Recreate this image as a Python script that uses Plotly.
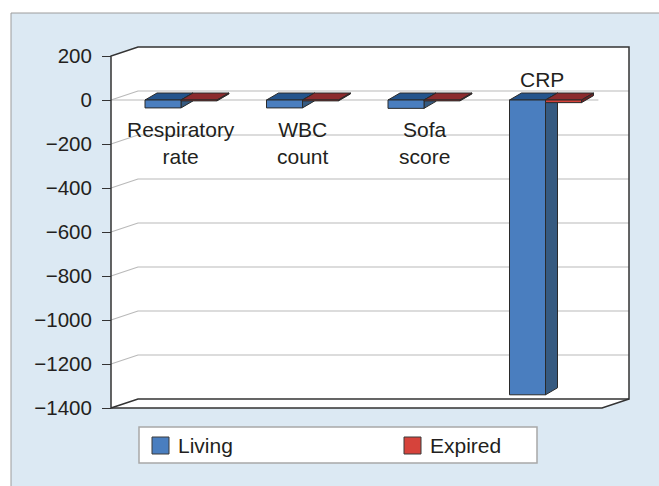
import plotly.graph_objects as go

# ---------------- data ----------------
categories = ["Respiratory<br>rate", "WBC<br>count", "Sofa<br>score", "CRP"]
living = [-36, -36, -38, -1340]
expired = [-4, -4, -4, -12]
series_names = ["Living", "Expired"]
tick_values = [200, 0, -200, -400, -600, -800, -1000, -1200, -1400]
tick_labels = ["200", "0", "\u2212200", "\u2212400", "\u2212600", "\u2212800",
               "\u22121000", "\u22121200", "\u22121400"]

# ---------------- styling / geometry ----------------
label_above = [False, False, False, True]
W, H = 659, 486
ML, MR, MT, MB = 108, 27, 44, 74
X0PX, XS = 181.0, 121.5      # pixel of category 0 centre, pixels per category
Y0PX, YS = 100.0, 0.22       # pixel of value 0, pixels per value unit
FONT = "Liberation Sans, Arial, Helvetica, sans-serif"
TXT = "#231f20"
DARK = "#333333"
GRID = "#b9b9b9"
PANEL = "#dce9f3"

def px2x(px):
    return (px - X0PX) / XS

def py2y(py):
    return (Y0PX - py) / YS

PW, PH = W - ML - MR, H - MT - MB

def ppx(px):
    return (px - ML) / PW

def ppy(py):
    return (H - MB - py) / PH

xr = [px2x(ML), px2x(W - MR)]
yr = [py2y(H - MB), py2y(MT)]
AX_L = px2x(111)
WALL_DX, WALL_DY = 27 / XS, 9 / YS
BACK_R = px2x(629)
FRONT_R = BACK_R - WALL_DX
BAR_W = 36 / XS
BAR_DX, BAR_DY = 12 / XS, 7 / YS
YMAX, YMIN = max(tick_values), min(tick_values)

colors = {
    0: dict(front="#4a7ebf", top="#24548c", side="#365a80"),
    1: dict(front="#d6433b", top="#8b2b2e", side="#6e2224"),
}

fig = go.Figure()

# ---------------- bars (pseudo 3D) ----------------
series = [living, expired]
for s, vals in enumerate(series):
    faces = {"top": ([], []), "side": ([], []), "front": ([], [])}
    for i, v in enumerate(vals):
        x0 = i - BAR_W + s * BAR_W
        x1 = x0 + BAR_W
        t, b = max(v, 0), min(v, 0)
        polys = {
            "top": [(x0, t), (x1, t), (x1 + BAR_DX, t + BAR_DY), (x0 + BAR_DX, t + BAR_DY)],
            "side": [(x1, t), (x1, b), (x1 + BAR_DX, b + BAR_DY), (x1 + BAR_DX, t + BAR_DY)],
            "front": [(x0, t), (x1, t), (x1, b), (x0, b)],
        }
        for k, pts in polys.items():
            xs, ys = faces[k]
            xs += [p[0] for p in pts] + [pts[0][0], None]
            ys += [p[1] for p in pts] + [pts[0][1], None]
    for k in ["top", "side", "front"]:
        xs, ys = faces[k]
        fig.add_trace(go.Scatter(
            x=xs, y=ys, mode="lines", fill="toself",
            fillcolor=colors[s][k], line=dict(color="#2a2a2a", width=1),
            name=series_names[s], showlegend=False, hoverinfo="skip"))

# ---------------- walls, floor, grid ----------------
shapes = []
# outer panel
shapes.append(dict(type="rect", xref="paper", yref="paper", layer="below",
                   x0=ppx(11), x1=ppx(680), y0=ppy(13), y1=ppy(500),
                   fillcolor=PANEL, line=dict(color="#9c9c9c", width=1)))

def path(pts, close=True):
    s = "M " + " L ".join(f"{x},{y}" for x, y in pts)
    return s + (" Z" if close else "")

white_polys = [
    [(AX_L, YMAX), (AX_L + WALL_DX, YMAX + WALL_DY), (AX_L + WALL_DX, YMIN + WALL_DY), (AX_L, YMIN)],
    [(AX_L + WALL_DX, YMAX + WALL_DY), (BACK_R, YMAX + WALL_DY), (BACK_R, YMIN + WALL_DY), (AX_L + WALL_DX, YMIN + WALL_DY)],
    [(AX_L, YMIN), (FRONT_R, YMIN), (BACK_R, YMIN + WALL_DY), (AX_L + WALL_DX, YMIN + WALL_DY)],
]
for p in white_polys:
    shapes.append(dict(type="path", xref="x", yref="y", layer="below", path=path(p),
                       fillcolor="white", line=dict(width=0)))

for v in tick_values:
    if v in (YMAX, YMIN):
        continue
    shapes.append(dict(type="path", xref="x", yref="y", layer="below",
                       path=path([(AX_L, v), (AX_L + WALL_DX, v + WALL_DY), (BACK_R, v + WALL_DY)], False),
                       line=dict(color=GRID, width=1.2)))
# front edge of the zero plane
shapes.append(dict(type="line", xref="x", yref="y", layer="below",
                   x0=AX_L, x1=FRONT_R - 0.03, y0=0, y1=0,
                   line=dict(color=GRID, width=1.2)))
# dark frame
shapes.append(dict(type="path", xref="x", yref="y", layer="below",
                   path=path([(AX_L, YMIN), (AX_L, YMAX), (AX_L + WALL_DX, YMAX + WALL_DY),
                              (BACK_R, YMAX + WALL_DY), (BACK_R, YMIN + WALL_DY),
                              (AX_L + WALL_DX, YMIN + WALL_DY), (AX_L, YMIN)], False),
                   line=dict(color=DARK, width=1.5)))
shapes.append(dict(type="path", xref="x", yref="y", layer="below",
                   path=path([(AX_L, YMIN), (FRONT_R, YMIN), (BACK_R, YMIN + WALL_DY)], False),
                   line=dict(color=DARK, width=1.5)))

# ---------------- custom legend ----------------
shapes.append(dict(type="rect", xref="paper", yref="paper",
                   x0=ppx(139), x1=ppx(537), y0=ppy(463), y1=ppy(427),
                   fillcolor="white", line=dict(color="#a8a8a8", width=1.5)))
legend_px = [152, 404]
annotations = []
for s, name in enumerate(series_names):
    lx = legend_px[s]
    shapes.append(dict(type="rect", xref="paper", yref="paper",
                       x0=ppx(lx), x1=ppx(lx + 17), y0=ppy(454), y1=ppy(437),
                       fillcolor=colors[s]["front"], line=dict(color="#3a3a3a", width=1)))
    annotations.append(dict(xref="paper", yref="paper", x=ppx(lx + 24), y=ppy(445.5),
                            text=name, showarrow=False, xanchor="left", yanchor="middle",
                            font=dict(family=FONT, size=21, color=TXT)))

# ---------------- category labels ----------------
for i, c in enumerate(categories):
    if label_above[i]:
        annotations.append(dict(xref="x", yref="y", x=i - 0.03, y=py2y(79),
                                text=c, showarrow=False, xanchor="center", yanchor="middle",
                                font=dict(family=FONT, size=21, color=TXT)))
    else:
        annotations.append(dict(xref="x", yref="y", x=i, y=py2y(143),
                                text=c, showarrow=False, xanchor="center", yanchor="middle",
                                font=dict(family=FONT, size=21, color=TXT)))

fig.update_layout(
    width=W, height=H,
    margin=dict(l=ML, r=MR, t=MT, b=MB),
    paper_bgcolor="white", plot_bgcolor="rgba(0,0,0,0)",
    showlegend=False,
    shapes=shapes, annotations=annotations,
    xaxis=dict(range=xr, visible=False, fixedrange=True),
    yaxis=dict(range=yr, tickmode="array", tickvals=tick_values, ticktext=tick_labels,
               showgrid=False, zeroline=False, showline=False,
               ticks="outside", ticklen=9, tickwidth=1.3, tickcolor=DARK,
               ticklabelstandoff=6,
               anchor="free", position=ppx(111),
               tickfont=dict(family=FONT, size=20.5, color=TXT), fixedrange=True),
)

fig.write_html("out.html", config={"displayModeBar": False},
               post_script="document.body.style.margin='0';document.body.style.overflow='hidden';")
